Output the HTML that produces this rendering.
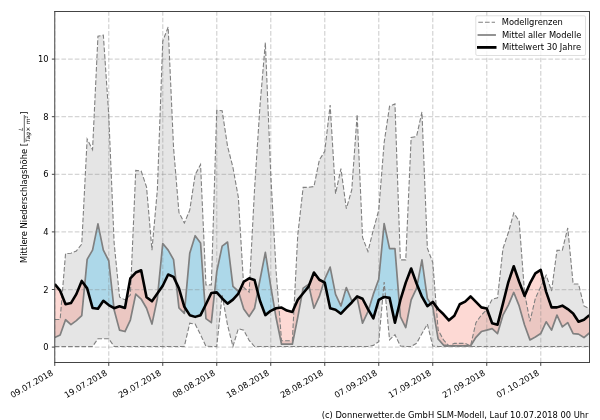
<!DOCTYPE html>
<html lang="de"><head><meta charset="utf-8"><title>Mittlere Niederschlagshöhe</title>
<style>html,body{margin:0;padding:0;background:#fff;}body{width:600px;height:420px;overflow:hidden;}svg{display:block;}text{font-family:"DejaVu Sans","Liberation Sans",sans-serif;font-size:8.33px;fill:#000;}</style></head><body>
<svg width="600" height="420" viewBox="0 0 600 420">
<rect width="600" height="420" fill="#fff"/>
<defs><clipPath id="ax"><rect x="54.75" y="11.5" width="534.6" height="351"/></clipPath></defs>
<g clip-path="url(#ax)">
<polygon fill="#d3d3d3" fill-opacity="0.6" points="54.75,319.46 60.15,319.46 65.55,253.55 70.95,253.27 76.35,250.96 81.75,244.06 87.15,139.01 92.55,149.66 97.95,36.26 103.35,35.11 108.75,115.12 114.15,243.19 119.55,297.01 124.95,299.89 130.35,295 135.75,170.38 141.15,170.95 146.55,187.07 151.95,250.1 157.35,189.95 162.75,41.16 168.15,27.05 173.55,147.64 178.95,212.4 184.35,223.05 189.75,210.09 195.15,174.7 200.55,164.62 205.95,284.92 211.35,284.92 216.75,110.23 222.15,110.8 227.55,146.2 232.95,167.5 238.35,197.43 243.75,287.51 249.15,292.12 254.55,189.09 259.95,106.2 265.35,42.6 270.75,174.12 276.15,271.97 281.55,340.76 286.95,340.76 292.35,340.76 297.75,235.13 303.15,187.36 308.55,187.36 313.95,186.5 319.35,160.02 324.75,151.38 330.15,105.05 335.55,193.69 340.95,168.65 346.35,208.66 351.75,189.95 357.15,114.55 362.55,237.44 367.95,251.54 373.35,229.95 378.75,210.09 384.15,142.46 389.55,106.2 394.95,103.9 400.35,259.88 405.75,259.88 411.15,137.57 416.55,136.42 421.95,111.96 427.35,248.08 432.75,262.47 438.15,330.11 443.55,339.89 448.95,345.94 454.35,343.35 459.75,343.35 465.15,343.35 470.55,345.94 475.95,322.62 481.35,315.14 486.75,309.67 492.15,299.31 497.55,297.87 502.95,248.66 508.35,232.54 513.75,212.97 519.15,221.03 524.55,292.69 529.95,321.47 535.35,298.45 540.75,286.65 546.15,275.14 551.55,290.97 556.95,250.39 562.35,250.1 567.75,227.94 573.15,284.06 578.55,284.06 583.95,305.93 589.35,308.81 589.35,346.5 583.95,346.5 578.55,346.5 573.15,346.5 567.75,346.5 562.35,346.5 556.95,346.5 551.55,346.5 546.15,346.5 540.75,346.5 535.35,346.5 529.95,346.5 524.55,346.5 519.15,346.5 513.75,346.5 508.35,346.5 502.95,346.5 497.55,346.5 492.15,346.5 486.75,346.5 481.35,346.5 475.95,346.5 470.55,346.5 465.15,346.5 459.75,346.5 454.35,346.5 448.95,346.5 443.55,346.5 438.15,346.5 432.75,345.94 427.35,324.06 421.95,333.56 416.55,343.35 411.15,346.5 405.75,346.5 400.35,345.94 394.95,334.71 389.55,339.89 384.15,282.05 378.75,341.62 373.35,345.36 367.95,346.5 362.55,346.5 357.15,346.5 351.75,346.5 346.35,346.5 340.95,346.5 335.55,346.5 330.15,346.5 324.75,346.5 319.35,346.5 313.95,346.5 308.55,346.5 303.15,346.5 297.75,346.5 292.35,346.5 286.95,346.5 281.55,346.5 276.15,346.5 270.75,346.5 265.35,346.5 259.95,346.5 254.55,346.5 249.15,340.47 243.75,330.11 238.35,328.67 232.95,346.5 227.55,325.22 222.15,295 216.75,346.5 211.35,346.5 205.95,346.22 200.55,334.71 195.15,324.06 189.75,323.2 184.35,346.5 178.95,346.5 173.55,346.5 168.15,346.5 162.75,346.5 157.35,346.5 151.95,346.5 146.55,346.5 141.15,346.5 135.75,346.5 130.35,346.5 124.95,346.5 119.55,346.5 114.15,346.5 108.75,338.74 103.35,338.74 97.95,338.74 92.55,346.5 87.15,346.5 81.75,346.5 76.35,346.5 70.95,346.5 65.55,346.5 60.15,346.5 54.75,346.5"/>
<path fill="#87ceeb" fill-opacity="0.6" d="M84.69 284.97L87.15 259.31L92.55 250.1L97.95 223.91L103.35 250.1L108.75 260.75L113.95 308.12L108.75 305.07L103.35 300.75L97.95 308.81L92.55 307.95L87.15 288.38L84.69 284.97ZM157.91 292.75L162.75 243.48L168.15 250.1L173.55 259.6L176.08 282.26L173.55 276.86L168.15 274.56L162.75 285.79L157.91 292.75ZM184.87 307.6L189.75 253.27L195.15 235.71L200.55 242.9L205.05 306.02L200.55 315.14L195.15 316.87L189.75 315.14L184.87 307.6ZM214.53 292.64L216.75 271.68L222.15 246.07L227.55 242.04L232.95 286.36L238.35 291.25L238.77 292.64L238.35 293.56L232.95 299.6L227.55 303.63L222.15 298.45L216.75 292.41L214.53 292.64ZM257.66 291.98L259.95 280.03L265.35 252.4L270.75 286.36L274.61 308.97L270.75 310.82L265.35 315.14L259.95 300.75L257.66 291.98ZM301.92 294.78L303.15 288.09L308.55 284.35L308.88 285.8L308.55 286.65L303.15 293.27L301.92 294.78ZM323.82 282.13L324.75 279.17L330.15 267.08L335.55 294.42L340.95 305.93L346.35 287.51L351.75 300.75L354.7 299.18L351.75 302.48L346.35 307.95L340.95 313.7L335.55 309.67L330.15 308.23L324.75 282.62L323.82 282.13ZM368.47 309.99L373.35 294.13L378.75 279.17L384.15 223.62L389.55 248.66L394.95 248.66L399.37 304.25L394.95 322.62L389.55 297.87L384.15 297.01L378.75 299.89L373.35 318.31L368.47 309.99ZM417.18 285.04L421.95 259.88L427.35 298.45L430.66 303.57L427.35 306.22L421.95 296.72L417.18 285.04Z"/>
<path fill="#fa8072" fill-opacity="0.3" d="M54.75 337.59L60.15 335L65.55 319.75L70.95 324.64L76.35 320.61L81.75 315.72L84.69 284.97L81.75 280.89L76.35 294.13L70.95 303.05L65.55 304.21L60.15 290.68L54.75 284.06ZM113.95 308.12L114.15 309.96L119.55 330.11L124.95 331.55L130.35 320.03L135.75 294.13L141.15 299.03L146.55 308.23L151.95 324.06L157.35 298.45L157.91 292.75L157.35 293.56L151.95 301.33L146.55 297.3L141.15 270.25L135.75 272.55L130.35 278.3L124.95 307.95L119.55 306.22L114.15 308.23L113.95 308.12ZM176.08 282.26L178.95 307.95L184.35 313.42L184.87 307.6L184.35 306.8L178.95 288.38L176.08 282.26ZM205.05 306.02L205.95 318.6L211.35 322.62L214.53 292.64L211.35 292.98L205.95 304.21L205.05 306.02ZM238.77 292.64L243.75 309.1L249.15 316.58L254.55 308.23L257.66 291.98L254.55 280.03L249.15 278.3L243.75 281.76L238.77 292.64ZM274.61 308.97L276.15 318.02L281.55 344.21L286.95 344.21L292.35 344.21L297.75 317.44L301.92 294.78L297.75 299.89L292.35 311.98L286.95 310.54L281.55 307.52L276.15 308.23L274.61 308.97ZM308.88 285.8L313.95 308.23L319.35 296.44L323.82 282.13L319.35 279.74L313.95 272.55L308.88 285.8ZM354.7 299.18L357.15 297.87L362.55 323.2L367.95 311.69L368.47 309.99L367.95 309.1L362.55 298.74L357.15 296.44L354.7 299.18ZM399.37 304.25L400.35 316.58L405.75 327.52L411.15 299.89L416.55 288.38L417.18 285.04L416.55 283.48L411.15 268.52L405.75 282.62L400.35 300.18L399.37 304.25ZM430.66 303.57L432.75 306.8L438.15 339.03L443.55 345.07L448.95 345.94L454.35 345.94L459.75 345.94L465.15 345.94L470.55 345.94L475.95 337.3L481.35 331.55L486.75 330.11L492.15 328.67L497.55 333.56L502.95 315.14L508.35 305.07L513.75 292.41L519.15 305.93L524.55 324.93L529.95 339.89L535.35 337.01L540.75 333.56L546.15 321.76L551.55 330.11L556.95 315.14L562.35 326.94L567.75 322.62L573.15 333.56L578.55 334.14L583.95 337.59L589.35 332.99L589.35 315.14L583.95 319.75L578.55 321.76L573.15 313.42L567.75 309.1L562.35 305.64L556.95 307.37L551.55 307.37L546.15 291.83L540.75 269.96L535.35 273.41L529.95 283.48L524.55 295.86L519.15 281.76L513.75 266.22L508.35 282.05L502.95 303.63L497.55 324.64L492.15 323.2L486.75 308.52L481.35 307.37L475.95 301.9L470.55 296.44L465.15 301.62L459.75 304.21L454.35 315.72L448.95 320.32L443.55 314.28L438.15 309.1L432.75 301.9L430.66 303.57Z"/>
<g stroke="#808080" stroke-opacity="0.33" stroke-width="1.25" stroke-dasharray="4.65 2.02" fill="none">
<path d="M54.75 362.5V11.5"/>
<path d="M108.75 362.5V11.5"/>
<path d="M162.75 362.5V11.5"/>
<path d="M216.75 362.5V11.5"/>
<path d="M270.75 362.5V11.5"/>
<path d="M324.75 362.5V11.5"/>
<path d="M378.75 362.5V11.5"/>
<path d="M432.75 362.5V11.5"/>
<path d="M486.75 362.5V11.5"/>
<path d="M540.75 362.5V11.5"/>
<path d="M54.75 347.1H589.35"/>
<path d="M54.75 289.5H589.35"/>
<path d="M54.75 231.9H589.35"/>
<path d="M54.75 174.3H589.35"/>
<path d="M54.75 116.7H589.35"/>
<path d="M54.75 59.1H589.35"/>
</g>
<polyline fill="none" stroke="#808080" stroke-width="1.1" stroke-dasharray="4.65 2.02" points="54.75,319.46 60.15,319.46 65.55,253.55 70.95,253.27 76.35,250.96 81.75,244.06 87.15,139.01 92.55,149.66 97.95,36.26 103.35,35.11 108.75,115.12 114.15,243.19 119.55,297.01 124.95,299.89 130.35,295 135.75,170.38 141.15,170.95 146.55,187.07 151.95,250.1 157.35,189.95 162.75,41.16 168.15,27.05 173.55,147.64 178.95,212.4 184.35,223.05 189.75,210.09 195.15,174.7 200.55,164.62 205.95,284.92 211.35,284.92 216.75,110.23 222.15,110.8 227.55,146.2 232.95,167.5 238.35,197.43 243.75,287.51 249.15,292.12 254.55,189.09 259.95,106.2 265.35,42.6 270.75,174.12 276.15,271.97 281.55,340.76 286.95,340.76 292.35,340.76 297.75,235.13 303.15,187.36 308.55,187.36 313.95,186.5 319.35,160.02 324.75,151.38 330.15,105.05 335.55,193.69 340.95,168.65 346.35,208.66 351.75,189.95 357.15,114.55 362.55,237.44 367.95,251.54 373.35,229.95 378.75,210.09 384.15,142.46 389.55,106.2 394.95,103.9 400.35,259.88 405.75,259.88 411.15,137.57 416.55,136.42 421.95,111.96 427.35,248.08 432.75,262.47 438.15,330.11 443.55,339.89 448.95,345.94 454.35,343.35 459.75,343.35 465.15,343.35 470.55,345.94 475.95,322.62 481.35,315.14 486.75,309.67 492.15,299.31 497.55,297.87 502.95,248.66 508.35,232.54 513.75,212.97 519.15,221.03 524.55,292.69 529.95,321.47 535.35,298.45 540.75,286.65 546.15,275.14 551.55,290.97 556.95,250.39 562.35,250.1 567.75,227.94 573.15,284.06 578.55,284.06 583.95,305.93 589.35,308.81"/>
<polyline fill="none" stroke="#808080" stroke-width="1.1" stroke-dasharray="4.65 2.02" points="54.75,346.5 60.15,346.5 65.55,346.5 70.95,346.5 76.35,346.5 81.75,346.5 87.15,346.5 92.55,346.5 97.95,338.74 103.35,338.74 108.75,338.74 114.15,346.5 119.55,346.5 124.95,346.5 130.35,346.5 135.75,346.5 141.15,346.5 146.55,346.5 151.95,346.5 157.35,346.5 162.75,346.5 168.15,346.5 173.55,346.5 178.95,346.5 184.35,346.5 189.75,323.2 195.15,324.06 200.55,334.71 205.95,346.22 211.35,346.5 216.75,346.5 222.15,295 227.55,325.22 232.95,346.5 238.35,328.67 243.75,330.11 249.15,340.47 254.55,346.5 259.95,346.5 265.35,346.5 270.75,346.5 276.15,346.5 281.55,346.5 286.95,346.5 292.35,346.5 297.75,346.5 303.15,346.5 308.55,346.5 313.95,346.5 319.35,346.5 324.75,346.5 330.15,346.5 335.55,346.5 340.95,346.5 346.35,346.5 351.75,346.5 357.15,346.5 362.55,346.5 367.95,346.5 373.35,345.36 378.75,341.62 384.15,282.05 389.55,339.89 394.95,334.71 400.35,345.94 405.75,346.5 411.15,346.5 416.55,343.35 421.95,333.56 427.35,324.06 432.75,345.94 438.15,346.5 443.55,346.5 448.95,346.5 454.35,346.5 459.75,346.5 465.15,346.5 470.55,346.5 475.95,346.5 481.35,346.5 486.75,346.5 492.15,346.5 497.55,346.5 502.95,346.5 508.35,346.5 513.75,346.5 519.15,346.5 524.55,346.5 529.95,346.5 535.35,346.5 540.75,346.5 546.15,346.5 551.55,346.5 556.95,346.5 562.35,346.5 567.75,346.5 573.15,346.5 578.55,346.5 583.95,346.5 589.35,346.5"/>
<polyline fill="none" stroke="#808080" stroke-width="1.7" stroke-linejoin="round" points="54.75,337.59 60.15,335 65.55,319.75 70.95,324.64 76.35,320.61 81.75,315.72 87.15,259.31 92.55,250.1 97.95,223.91 103.35,250.1 108.75,260.75 114.15,309.96 119.55,330.11 124.95,331.55 130.35,320.03 135.75,294.13 141.15,299.03 146.55,308.23 151.95,324.06 157.35,298.45 162.75,243.48 168.15,250.1 173.55,259.6 178.95,307.95 184.35,313.42 189.75,253.27 195.15,235.71 200.55,242.9 205.95,318.6 211.35,322.62 216.75,271.68 222.15,246.07 227.55,242.04 232.95,286.36 238.35,291.25 243.75,309.1 249.15,316.58 254.55,308.23 259.95,280.03 265.35,252.4 270.75,286.36 276.15,318.02 281.55,344.21 286.95,344.21 292.35,344.21 297.75,317.44 303.15,288.09 308.55,284.35 313.95,308.23 319.35,296.44 324.75,279.17 330.15,267.08 335.55,294.42 340.95,305.93 346.35,287.51 351.75,300.75 357.15,297.87 362.55,323.2 367.95,311.69 373.35,294.13 378.75,279.17 384.15,223.62 389.55,248.66 394.95,248.66 400.35,316.58 405.75,327.52 411.15,299.89 416.55,288.38 421.95,259.88 427.35,298.45 432.75,306.8 438.15,339.03 443.55,345.07 448.95,345.94 454.35,345.94 459.75,345.94 465.15,345.94 470.55,345.94 475.95,337.3 481.35,331.55 486.75,330.11 492.15,328.67 497.55,333.56 502.95,315.14 508.35,305.07 513.75,292.41 519.15,305.93 524.55,324.93 529.95,339.89 535.35,337.01 540.75,333.56 546.15,321.76 551.55,330.11 556.95,315.14 562.35,326.94 567.75,322.62 573.15,333.56 578.55,334.14 583.95,337.59 589.35,332.99"/>
<polyline fill="none" stroke="#000" stroke-width="2.6" stroke-linejoin="round" points="54.75,284.06 60.15,290.68 65.55,304.21 70.95,303.05 76.35,294.13 81.75,280.89 87.15,288.38 92.55,307.95 97.95,308.81 103.35,300.75 108.75,305.07 114.15,308.23 119.55,306.22 124.95,307.95 130.35,278.3 135.75,272.55 141.15,270.25 146.55,297.3 151.95,301.33 157.35,293.56 162.75,285.79 168.15,274.56 173.55,276.86 178.95,288.38 184.35,306.8 189.75,315.14 195.15,316.87 200.55,315.14 205.95,304.21 211.35,292.98 216.75,292.41 222.15,298.45 227.55,303.63 232.95,299.6 238.35,293.56 243.75,281.76 249.15,278.3 254.55,280.03 259.95,300.75 265.35,315.14 270.75,310.82 276.15,308.23 281.55,307.52 286.95,310.54 292.35,311.98 297.75,299.89 303.15,293.27 308.55,286.65 313.95,272.55 319.35,279.74 324.75,282.62 330.15,308.23 335.55,309.67 340.95,313.7 346.35,307.95 351.75,302.48 357.15,296.44 362.55,298.74 367.95,309.1 373.35,318.31 378.75,299.89 384.15,297.01 389.55,297.87 394.95,322.62 400.35,300.18 405.75,282.62 411.15,268.52 416.55,283.48 421.95,296.72 427.35,306.22 432.75,301.9 438.15,309.1 443.55,314.28 448.95,320.32 454.35,315.72 459.75,304.21 465.15,301.62 470.55,296.44 475.95,301.9 481.35,307.37 486.75,308.52 492.15,323.2 497.55,324.64 502.95,303.63 508.35,282.05 513.75,266.22 519.15,281.76 524.55,295.86 529.95,283.48 535.35,273.41 540.75,269.96 546.15,291.83 551.55,307.37 556.95,307.37 562.35,305.64 567.75,309.1 573.15,313.42 578.55,321.76 583.95,319.75 589.35,315.14"/>
</g>
<g stroke="#444" stroke-width="1" fill="none">
<path d="M54.75 362.5v3.4"/>
<path d="M108.75 362.5v3.4"/>
<path d="M162.75 362.5v3.4"/>
<path d="M216.75 362.5v3.4"/>
<path d="M270.75 362.5v3.4"/>
<path d="M324.75 362.5v3.4"/>
<path d="M378.75 362.5v3.4"/>
<path d="M432.75 362.5v3.4"/>
<path d="M486.75 362.5v3.4"/>
<path d="M540.75 362.5v3.4"/>
<path d="M54.75 347.1h-2.9"/>
<path d="M54.75 289.5h-2.9"/>
<path d="M54.75 231.9h-2.9"/>
<path d="M54.75 174.3h-2.9"/>
<path d="M54.75 116.7h-2.9"/>
<path d="M54.75 59.1h-2.9"/>
</g>
<path d="M54.75 11.0V363.0M589.5 11.0V363.0M54.25 11.5H590M54.25 362.5H590" fill="none" stroke="#444" stroke-width="1"/>
<text x="48.65" y="350.2" text-anchor="end">0</text>
<text x="48.65" y="292.6" text-anchor="end">2</text>
<text x="48.65" y="235" text-anchor="end">4</text>
<text x="48.65" y="177.4" text-anchor="end">6</text>
<text x="48.65" y="119.8" text-anchor="end">8</text>
<text x="48.65" y="62.2" text-anchor="end">10</text>
<text text-anchor="end" transform="translate(53.75 374.5) rotate(-30)">09.07.2018</text>
<text text-anchor="end" transform="translate(107.75 374.5) rotate(-30)">19.07.2018</text>
<text text-anchor="end" transform="translate(161.75 374.5) rotate(-30)">29.07.2018</text>
<text text-anchor="end" transform="translate(215.75 374.5) rotate(-30)">08.08.2018</text>
<text text-anchor="end" transform="translate(269.75 374.5) rotate(-30)">18.08.2018</text>
<text text-anchor="end" transform="translate(323.75 374.5) rotate(-30)">28.08.2018</text>
<text text-anchor="end" transform="translate(377.75 374.5) rotate(-30)">07.09.2018</text>
<text text-anchor="end" transform="translate(431.75 374.5) rotate(-30)">17.09.2018</text>
<text text-anchor="end" transform="translate(485.75 374.5) rotate(-30)">27.09.2018</text>
<text text-anchor="end" transform="translate(539.75 374.5) rotate(-30)">07.10.2018</text>
<g transform="translate(27 187) rotate(-90)"><text x="-75.9" y="0">Mittlere Niederschlagshöhe [</text><text x="56.2" y="-4.0" style="font-size:5.83px;font-style:italic">L</text><path d="M44.4 -2.7H72" stroke="#222" stroke-width="0.7"/><text y="3.3" style="font-size:5.83px"><tspan x="44.8" font-style="italic">Tag</tspan><tspan x="55.4">×</tspan><tspan x="62.7" font-style="italic">m</tspan><tspan x="68.6" style="font-size:4.08px" dy="-2.1">2</tspan></text><text x="72.3" y="0">]</text></g>
<rect x="475.8" y="15.8" width="109.7" height="39.7" rx="1.4" fill="#fff" fill-opacity="0.8" stroke="#ccc" stroke-opacity="0.8" stroke-width="0.8"/>
<path d="M478.3 22.3h16.7" stroke="#808080" stroke-width="1.1" stroke-dasharray="4.65 2.02"/>
<path d="M478.4 35h16.7" stroke="#808080" stroke-width="1.7" stroke-linecap="square"/>
<path d="M478.4 47.4h16.7" stroke="#000" stroke-width="2.8" stroke-linecap="square"/>
<text x="501.8" y="25.2">Modellgrenzen</text>
<text x="501.9" y="37.7">Mittel aller Modelle</text>
<text x="501.9" y="50.2">Mittelwert 30 Jahre</text>
<text x="588.5" y="418.2" text-anchor="end">(c) Donnerwetter.de GmbH SLM-Modell, Lauf 10.07.2018 00 Uhr</text>
</svg></body></html>
